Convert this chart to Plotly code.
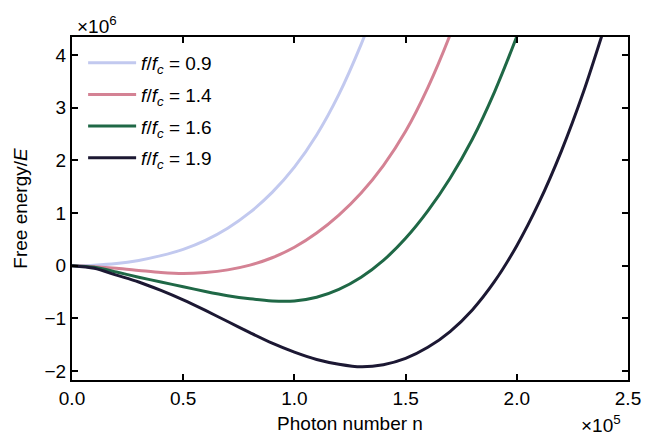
import plotly.graph_objects as go

# Photon number n (x 10^5) and free energy / E (x 10^6)
n_09 = [0, 0.1, 0.2, 0.3, 0.4, 0.5, 0.6, 0.7, 0.8, 0.9, 1.0, 1.1, 1.2, 1.3, 1.4]
f_09 = [0, 0.01, 0.04, 0.10, 0.19, 0.31, 0.48, 0.71, 1.01, 1.39, 1.87, 2.48, 3.25, 4.2, 5.3]

n_14 = [0, 0.1, 0.2, 0.3, 0.4, 0.5, 0.6, 0.7, 0.8, 0.9, 1.0, 1.1, 1.2, 1.3, 1.4, 1.5, 1.6, 1.7, 1.8]
f_14 = [0, -0.02, -0.05, -0.09, -0.13, -0.15, -0.13, -0.08, 0.01, 0.15, 0.35, 0.62, 0.96,
        1.38, 1.90, 2.55, 3.38, 4.38, 5.55]

n_16 = [0, 0.1, 0.2, 0.3, 0.4, 0.5, 0.6, 0.7, 0.8, 0.9, 1.0, 1.1, 1.2, 1.3, 1.4, 1.5, 1.6,
        1.7, 1.8, 1.9, 2.0, 2.1]
f_16 = [0, -0.03, -0.12, -0.22, -0.31, -0.40, -0.49, -0.57, -0.63, -0.67, -0.67, -0.60,
        -0.45, -0.22, 0.10, 0.52, 1.04, 1.66, 2.40, 3.30, 4.35, 5.5]

n_19 = [0, 0.1, 0.2, 0.3, 0.4, 0.5, 0.6, 0.7, 0.8, 0.9, 1.0, 1.1, 1.2, 1.3, 1.4, 1.5, 1.6,
        1.7, 1.8, 1.9, 2.0, 2.1, 2.2, 2.3, 2.4]
f_19 = [0, -0.05, -0.18, -0.31, -0.47, -0.65, -0.85, -1.06, -1.27, -1.47, -1.64, -1.78, -1.87,
        -1.92, -1.88, -1.76, -1.55, -1.25, -0.84, -0.30, 0.38, 1.20, 2.17, 3.3, 4.6]

labels = ["0.9", "1.4", "1.6", "1.9"]
colors = ["#c2c9ef", "#d48294", "#1f6846", "#1c1833"]
series = [(n_09, f_09), (n_14, f_14), (n_16, f_16), (n_19, f_19)]

x_ticks = [0, 0.5, 1.0, 1.5, 2.0, 2.5]
x_ticklabels = ["0.0", "0.5", "1.0", "1.5", "2.0", "2.5"]
y_ticks = [-2, -1, 0, 1, 2, 3, 4]
y_ticklabels = ["\u22122", "\u22121", "0", "1", "2", "3", "4"]

FONT = "Liberation Sans, Arial, Helvetica, sans-serif"
FS = 19

fig = go.Figure()
for (xs, ys), lab, col in zip(series, labels, colors):
    fig.add_trace(go.Scatter(
        x=xs, y=ys, mode="lines",
        line=dict(color=col, width=3, shape="spline", smoothing=0.8),
        name="<i>f</i>/<i>f</i><sub><i>c</i></sub> = " + lab,
        legendgroup=lab,
    ))

axis_common = dict(
    showline=True, linecolor="black", linewidth=2, mirror="allticks",
    ticks="inside", ticklen=6, tickwidth=1.5, tickcolor="black",
    showgrid=False, zeroline=False, automargin=False,
    tickfont=dict(family=FONT, size=FS, color="black"),
)

fig.update_layout(
    width=647, height=435,
    margin=dict(l=72, r=19, t=37, b=55),
    paper_bgcolor="white", plot_bgcolor="white",
    font=dict(family=FONT, size=FS, color="black"),
    showlegend=True,
    legend=dict(
        x=0.02, y=0.98, xanchor="left", yanchor="top",
        bgcolor="rgba(0,0,0,0)", borderwidth=0,
        font=dict(family=FONT, size=FS, color="black"),
        tracegroupgap=4, itemwidth=48,
    ),
    xaxis=dict(
        range=[0, 2.5], tickvals=x_ticks, ticktext=x_ticklabels,
        title=dict(text="Photon number n", font=dict(family=FONT, size=FS), standoff=9),
        **axis_common,
    ),
    yaxis=dict(
        range=[-2.17, 4.34], tickvals=y_ticks, ticktext=y_ticklabels,
        title=dict(text="Free energy/<i>E</i>", font=dict(family=FONT, size=FS), standoff=12),
        **axis_common,
    ),
    annotations=[
        dict(text="\u00d710<sup>6</sup>", xref="paper", yref="paper", x=0.005, y=1.035,
             xanchor="left", yanchor="middle", showarrow=False,
             font=dict(family=FONT, size=FS, color="black")),
        dict(text="\u00d710<sup>5</sup>", xref="paper", yref="paper", x=0.991, y=-0.128,
             xanchor="right", yanchor="middle", showarrow=False,
             font=dict(family=FONT, size=FS, color="black")),
    ],
)

fig.write_html("out.html", config={"displayModeBar": False},
               post_script="document.body.style.margin='0px';")
